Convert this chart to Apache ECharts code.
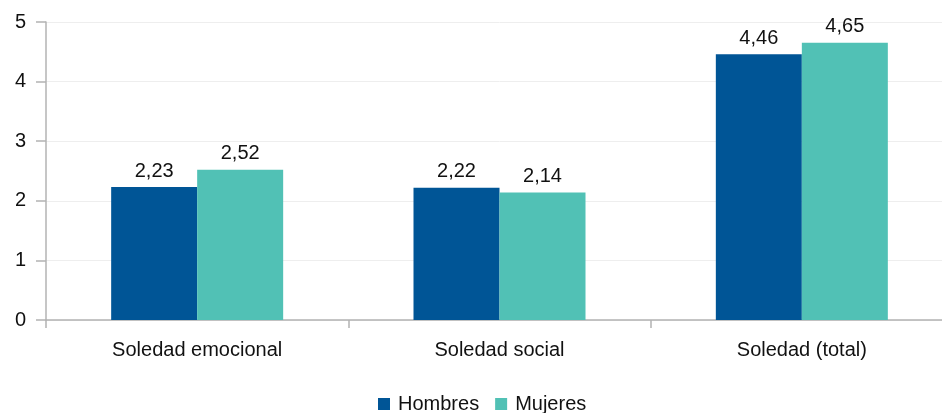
<!DOCTYPE html>
<html>
<head>
<meta charset="utf-8">
<script src="https://cdn.jsdelivr.net/npm/echarts@6/dist/echarts.min.js"></script>
<style>
  html, body { margin: 0; padding: 0; background: #fff; overflow: hidden; }
  #chart { width: 953px; height: 413px; }
</style>
</head>
<body>
<div id="chart"></div>
<script>
const categories = ['Soledad emocional', 'Soledad social', 'Soledad (total)']
const hombres = [2.23, 2.22, 4.46]
const mujeres = [2.52, 2.14, 4.65]
const yTicks = [0, 1, 2, 3, 4, 5]

const fmt = v => String(v.toFixed(2)).replace('.', ',')
const font = 'Liberation Sans, Arial, sans-serif'

// plot runs past the right edge of the window, like the source image
const chart = echarts.init(document.getElementById('chart'))
const label = {
  show: true,
  position: 'top',
  distance: 6,
  color: '#111',
  fontSize: 20,
  fontFamily: font,
  formatter: p => fmt(p.value)
}
chart.setOption({
  animation: false,
  textStyle: { fontFamily: font },
  grid: { left: 46, top: 22, right: 0, bottom: 93, containLabel: false },
  legend: {
    bottom: -6,
    left: 373,
    itemWidth: 12,
    itemHeight: 12,
    itemGap: 16,
    icon: 'rect',
    textStyle: { fontSize: 20, color: '#111', fontFamily: font, padding: [0, 0, 0, 3] },
    data: ['Hombres', 'Mujeres']
  },
  xAxis: {
    type: 'category',
    data: categories,
    axisLine: { lineStyle: { color: '#b3b3b3', width: 1.5 } },
    axisTick: { show: true, length: 8, lineStyle: { color: '#b3b3b3', width: 1.5 } },
    axisLabel: { color: '#111', fontSize: 20, margin: 20, fontFamily: font },
    splitLine: { show: false }
  },
  yAxis: {
    type: 'value',
    min: yTicks[0],
    max: yTicks[yTicks.length - 1],
    interval: 1,
    axisLine: { show: true, lineStyle: { color: '#b3b3b3', width: 1.5 } },
    axisTick: { show: true, length: 10, lineStyle: { color: '#b3b3b3', width: 1.5 } },
    axisLabel: { color: '#111', fontSize: 20, margin: 20, fontFamily: font },
    splitLine: { lineStyle: { color: '#eeeeee', width: 1 } }
  },
  series: [
    {
      name: 'Hombres',
      type: 'bar',
      data: hombres,
      barWidth: 86,
      barGap: '0%',
      itemStyle: { color: '#005596' },
      label
    },
    {
      name: 'Mujeres',
      type: 'bar',
      data: mujeres,
      barWidth: 86,
      barGap: '0%',
      itemStyle: { color: '#51c1b5' },
      label
    }
  ]
})
</script>
</body>
</html>
